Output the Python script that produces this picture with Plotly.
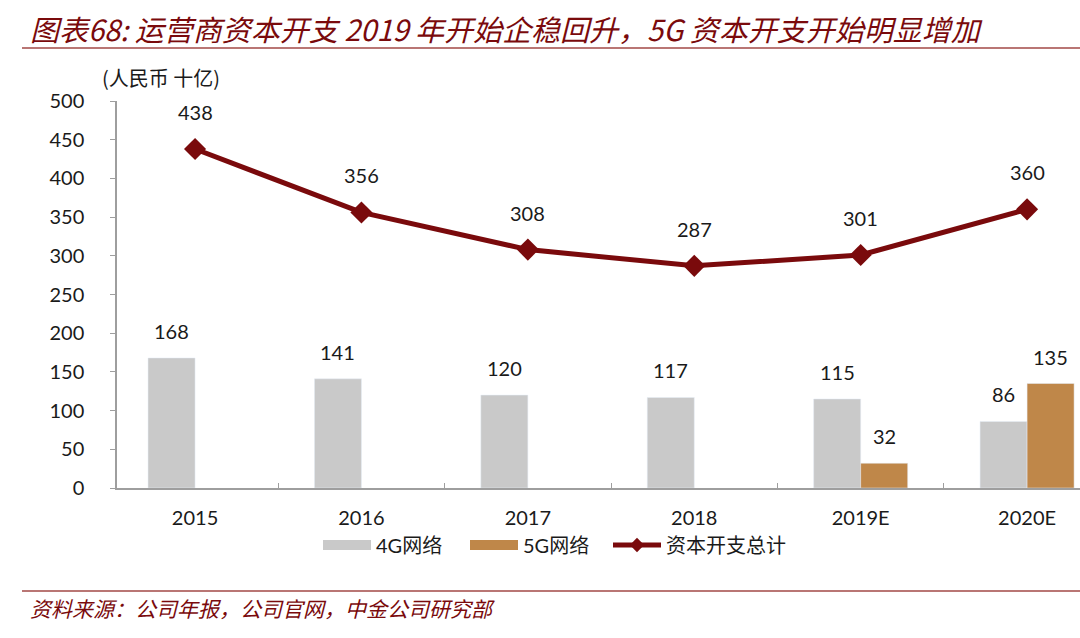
import plotly.graph_objects as go

categories = ["2015", "2016", "2017", "2018", "2019E", "2020E"]
net_4g = [168, 141, 120, 117, 115, 86]
net_5g = [None, None, None, None, 32, 135]
capex_total = [438, 356, 308, 287, 301, 360]

title_text = "图表68: 运营商资本开支 2019 年开始企稳回升，5G 资本开支开始明显增加"
source_text = "资料来源：公司年报，公司官网，中金公司研究部"
unit_text = "(人民币 十亿)"

FONT = "Lato, 'Noto Sans CJK SC', sans-serif"
CJK = "'Noto Sans CJK SC', Lato, sans-serif"
RED = "#7A0A0C"
GRAY_BAR = "#C9C9C9"
GOLD_BAR = "#BF8749"
AXIS = "#9E9E9E"
TXT = "#1a1a1a"

fig = go.Figure()
fig.add_trace(go.Bar(x=categories, y=net_4g, name="4G网络", marker_color=GRAY_BAR, showlegend=False))
fig.add_trace(go.Bar(x=categories, y=net_5g, name="5G网络", marker_color=GOLD_BAR, showlegend=False))
fig.add_trace(go.Scatter(x=categories, y=capex_total, name="资本开支总计", mode="lines+markers",
                         line=dict(color=RED, width=5),
                         marker=dict(symbol="diamond", size=17, color=RED), showlegend=False))
# legend entries (wide rectangular swatches like the reference)
fig.add_trace(go.Scatter(x=[None], y=[None], name="4G网络", mode="lines",
                         line=dict(color=GRAY_BAR, width=12), legendwidth=84))
fig.add_trace(go.Scatter(x=[None], y=[None], name="5G网络", mode="lines",
                         line=dict(color=GOLD_BAR, width=12), legendwidth=80))
fig.add_trace(go.Scatter(x=[None], y=[None], name="资本开支总计", mode="lines+markers",
                         line=dict(color=RED, width=5),
                         marker=dict(symbol="diamond", size=11, color=RED), legendwidth=160))

ann = []
for i, v in enumerate(capex_total):
    ann.append(dict(x=i, y=v, text=str(v), showarrow=False, yshift=37,
                    font=dict(size=20, color=TXT, family=FONT)))
for i, v in enumerate(net_4g):
    if v is not None:
        ann.append(dict(x=i, y=v, text=str(v), showarrow=False, yshift=27, xshift=-23.5,
                        font=dict(size=20, color=TXT, family=FONT)))
for i, v in enumerate(net_5g):
    if v is not None:
        ann.append(dict(x=i, y=v, text=str(v), showarrow=False, yshift=27, xshift=23.5,
                        font=dict(size=20, color=TXT, family=FONT)))

PL, PR, PT, PB = 117, 1080, 101, 488
W, H = PR - PL, PB - PT
def px(x):
    return (x - PL) / W
def py(y):
    return (PB - y) / H

ann.append(dict(xref="paper", yref="paper", x=px(28), y=py(28), xanchor="left", yanchor="middle",
                text=title_text, showarrow=False,
                font=dict(size=29, color=RED, family=CJK, style="italic")))
ann.append(dict(xref="paper", yref="paper", x=px(28), y=py(608), xanchor="left", yanchor="middle",
                text=source_text, showarrow=False,
                font=dict(size=21, color=RED, family=CJK, style="italic")))
ann.append(dict(xref="paper", yref="paper", x=px(100), y=py(78), xanchor="left", yanchor="middle",
                text=unit_text, showarrow=False,
                font=dict(size=20, color=TXT, family=CJK)))

shapes = [
    dict(type="line", xref="paper", yref="paper", x0=px(22), x1=px(1080), y0=py(48), y1=py(48),
         line=dict(color="#A24846", width=1.5)),
    dict(type="line", xref="paper", yref="paper", x0=px(22), x1=px(1080), y0=py(591), y1=py(591),
         line=dict(color="#A24846", width=1.5)),
]

fig.update_layout(
    width=1080, height=638,
    margin=dict(l=PL, r=0, t=PT, b=638 - PB),
    paper_bgcolor="white", plot_bgcolor="white",
    barmode="group", bargap=0.435, bargroupgap=0,
    showlegend=True,
    legend=dict(orientation="h", x=px(318), y=py(545), xanchor="left", yanchor="middle",
                font=dict(size=20, color=TXT, family=FONT),
                itemwidth=48, tracegroupgap=0),
    annotations=ann,
    shapes=shapes,
    font=dict(family=FONT, size=20, color=TXT),
)
fig.update_xaxes(type="category", range=[-0.469, 5.318], showline=True, linecolor=AXIS, linewidth=1.5,
                 ticks="inside", tickson="boundaries", ticklen=5, tickcolor=AXIS,
                 tickfont=dict(size=20, family=FONT, color=TXT), ticklabelstandoff=11,
                 showgrid=False, zeroline=False, fixedrange=True)
fig.update_yaxes(range=[0, 500], dtick=50, showline=True, linecolor=AXIS, linewidth=1.5,
                 ticks="outside", ticklen=5, tickcolor=AXIS,
                 tickfont=dict(size=20, family=FONT, color=TXT), ticklabelstandoff=22,
                 showgrid=False, zeroline=False, fixedrange=True)

fig.write_html("out.html")
